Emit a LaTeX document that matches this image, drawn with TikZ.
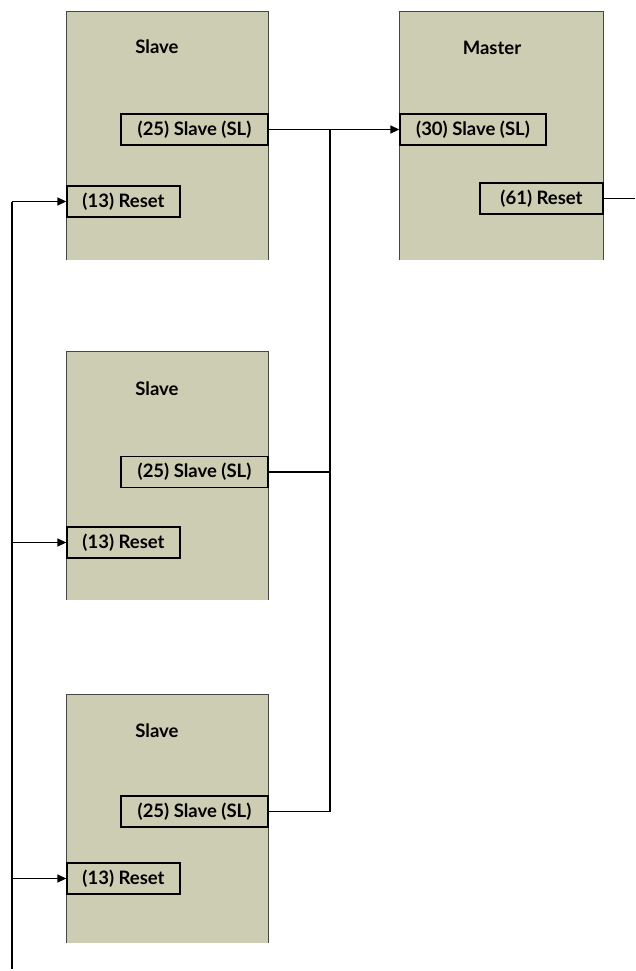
\documentclass[tikz,border=0pt]{standalone}
\usepackage{fontspec}
\setmainfont{Lato}
\usetikzlibrary{arrows.meta}
\definecolor{panel}{RGB}{204,205,178}
\definecolor{edge}{RGB}{70,70,70}
\begin{document}
\begin{tikzpicture}[x=1pt,y=-1pt,
  panelbox/.style={fill=panel,draw=none,anchor=north west,inner sep=0,minimum width=202pt,minimum height=249pt},
  port/.style={draw=black,line width=1.3pt,inner sep=0,minimum height=31pt,font=\bfseries\fontsize{18.5}{20}\selectfont},
  ttl/.style={font=\bfseries\fontsize{18.5}{20}\selectfont},
  wire/.style={line width=1.4pt},
  arr/.style={wire,-{Triangle[length=9pt,width=8pt]}}]
\useasboundingbox (0,0) rectangle (635,971);
% panels
\node[panelbox] (p1) at (66,11) {};
\node[panelbox] (p2) at (66,351) {};
\node[panelbox] (p3) at (66,694) {};
\node[panelbox,minimum width=204pt] (pm) at (399,11) {};
\foreach \p in {p1,p2,p3,pm}
  \draw[edge,line width=0.8pt] (\p.south west) -- (\p.north west) -- (\p.north east) -- (\p.south east);
% titles
\node[ttl] (t1) at (157,47) {Slave};
\node[ttl] (t2) at (157,389) {Slave};
\node[ttl] (t3) at (157,731) {Slave};
\node[ttl] (tm) at (492,48) {Master};
% ports
\node[port,minimum width=147pt] (s1) at (194.5,129.5) {(25) Slave (SL)};
\node[port,minimum width=147pt] (s2) at (194.5,472) {(25) Slave (SL)};
\node[port,minimum width=147pt] (s3) at (194.5,811.5) {(25) Slave (SL)};
\node[port,minimum width=113pt] (r1) at (123.5,201.5) {(13) Reset};
\node[port,minimum width=113pt] (r2) at (123.5,542.5) {(13) Reset};
\node[port,minimum width=113pt] (r3) at (123.5,878.5) {(13) Reset};
\node[port,minimum width=146pt] (ms) at (473,129.5) {(30) Slave (SL)};
\node[port,minimum width=123pt] (mr) at (541.5,198.5) {(61) Reset};
% slave bus
\coordinate (bus) at (330,129.5);
\draw[arr] (s1.east) -- (ms.west);
\draw[wire] (s2.east) -- (s2.east -| bus);
\draw[wire] (s3.east) -| (bus);
% reset line
\coordinate (rtop) at (12,201.5);
\coordinate (rbot) at (12,969);
\coordinate (mout) at (635,198.5);
\draw[wire] (mr.east) -- (mout);
\draw[wire] (rbot) -- (rtop);
\draw[arr] (rtop) -- (r1.west);
\draw[arr] (r2.west -| rtop) -- (r2.west);
\draw[arr] (r3.west -| rtop) -- (r3.west);
\end{tikzpicture}
\end{document}
